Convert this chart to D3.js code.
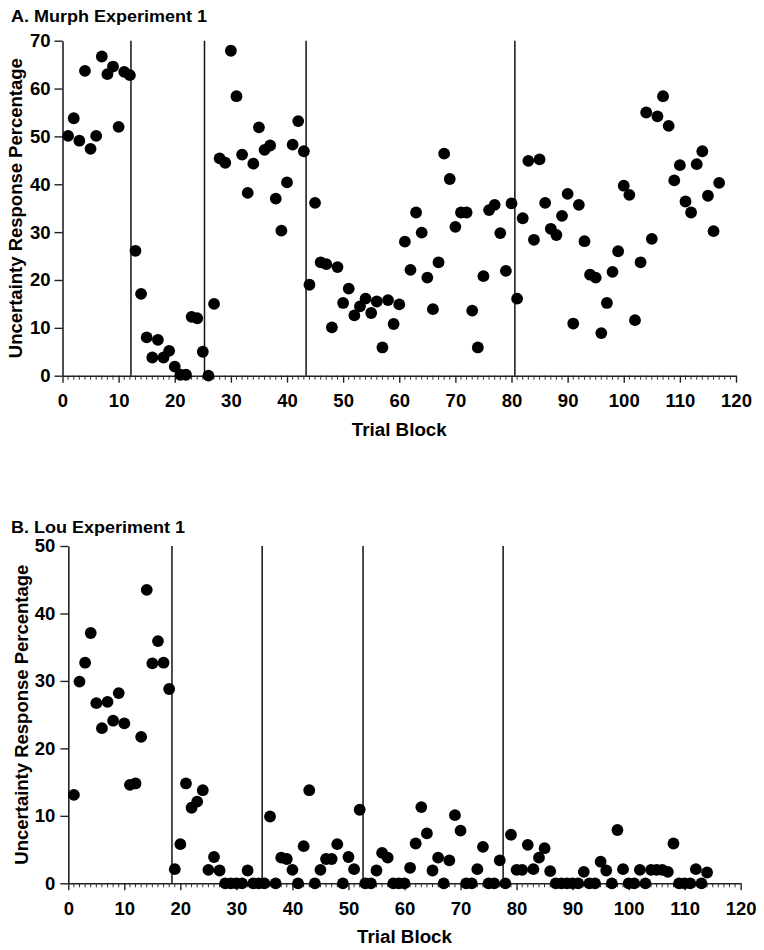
<!DOCTYPE html>
<html>
<head>
<meta charset="utf-8">
<script src="https://cdn.jsdelivr.net/npm/d3@7"></script>
<style>
  html, body { margin: 0; padding: 0; background: #fff; }
  svg text { font-family: "Liberation Sans", Arial, sans-serif; font-weight: bold; fill: #000; }
</style>
</head>
<body>
<svg id="chart" width="764" height="950"></svg>
<script>
// ---------- Data ----------
const murphBlocks = d3.range(1, 118); // trial blocks 1..117
const murphValues = [
  50.1, 53.8, 49.1, 63.7, 47.4, 50.1, 66.7, 63.0, 64.6, 52.0,
  63.5, 62.8, 26.1, 17.1, 8.0, 3.8, 7.5, 3.8, 5.2, 1.9,
  0.2, 0.2, 12.3, 12.0, 5.0, 0.0, 15.0, 45.4, 44.5, 67.9,
  58.4, 46.2, 38.2, 44.3, 51.9, 47.2, 48.1, 37.0, 30.3, 40.4,
  48.3, 53.2, 46.9, 19.0, 36.1, 23.7, 23.3, 10.1, 22.7, 15.2,
  18.2, 12.6, 14.5, 16.1, 13.1, 15.5, 5.9, 15.8, 10.8, 14.9,
  28.0, 22.1, 34.1, 29.9, 20.5, 13.9, 23.7, 46.4, 41.1, 31.1,
  34.1, 34.1, 13.6, 5.9, 20.8, 34.6, 35.7, 29.8, 21.9, 36.0,
  16.1, 32.9, 44.9, 28.4, 45.2, 36.1, 30.7, 29.4, 33.4, 38.0,
  10.9, 35.7, 28.1, 21.1, 20.5, 8.9, 15.2, 21.7, 26.0, 39.7,
  37.8, 11.6, 23.7, 55.0, 28.6, 54.2, 58.4, 52.2, 40.8, 44.0,
  36.4, 34.1, 44.2, 46.9, 37.6, 30.2, 40.3
];
const murphPhaseLines = [12.2, 25.3, 43.4, 80.6];

const louBlocks = d3.range(1, 115); // trial blocks 1..114
const louValues = [
  13.1, 29.9, 32.7, 37.1, 26.7, 23.0, 26.9, 24.1, 28.2, 23.7,
  14.6, 14.8, 21.7, 43.5, 32.6, 35.9, 32.7, 28.8, 2.1, 5.8,
  14.8, 11.2, 12.1, 13.8, 2.0, 3.9, 1.9, 0, 0, 0,
  0, 1.9, 0, 0, 0, 9.9, 0, 3.8, 3.6, 2.0,
  0, 5.5, 13.8, 0, 2.0, 3.6, 3.6, 5.8, 0, 3.9,
  2.1, 10.9, 0, 0, 1.9, 4.5, 3.8, 0, 0, 0,
  2.3, 5.9, 11.3, 7.4, 1.9, 3.8, 0, 3.4, 10.1, 7.8,
  0, 0, 2.1, 5.4, 0, 0, 3.4, 0, 7.2, 2.0,
  2.0, 5.7, 2.1, 3.8, 5.2, 1.8, 0, 0, 0, 0,
  0, 1.7, 0, 0, 3.2, 1.9, 0, 7.9, 2.1, 0,
  0, 2.0, 0, 2.0, 2.0, 2.0, 1.7, 5.9, 0, 0,
  0, 2.1, 0, 1.6
];
const louPhaseLines = [18.5, 34.6, 52.6, 77.6];

const xTicks = [0, 10, 20, 30, 40, 50, 60, 70, 80, 90, 100, 110, 120];
const murphYTicks = [0, 10, 20, 30, 40, 50, 60, 70];
const louYTicks = [0, 10, 20, 30, 40, 50];

// ---------- Drawing ----------
const svg = d3.select("#chart");

function panel(cfg) {
  const g = svg.append("g");
  const x = d3.scaleLinear().domain([0, 120]).range([cfg.x0, cfg.x1]);
  const y = d3.scaleLinear().domain([0, cfg.yMax]).range([cfg.y0, cfg.y1]);

  // title
  g.append("text").attr("x", 11).attr("y", cfg.titleY)
    .attr("font-size", 16.5)
    .attr("textLength", cfg.titleLen).attr("lengthAdjust", "spacingAndGlyphs")
    .text(cfg.title);

  // minor x ticks
  const minor = d3.range(0, 121).filter(v => v % 10 !== 0);
  g.append("g").selectAll("line").data(minor).join("line")
    .attr("x1", d => x(d)).attr("x2", d => x(d))
    .attr("y1", cfg.y0).attr("y2", cfg.y0 + 4)
    .attr("stroke", "#333").attr("stroke-width", 1);

  // x axis
  const xAxis = g.append("g").attr("transform", `translate(0,${cfg.y0})`)
    .call(d3.axisBottom(x).tickValues(xTicks).tickSize(7).tickPadding(11.5).tickSizeOuter(0));
  xAxis.select(".domain").attr("stroke", "#222").attr("stroke-width", 1.6);
  xAxis.selectAll(".tick line").attr("stroke", "#222").attr("stroke-width", 1.4);
  xAxis.selectAll(".tick text").attr("font-size", 18.5).attr("font-family", null).attr("fill", "#000");

  // y axis
  const yAxis = g.append("g").attr("transform", `translate(${cfg.x0},0)`)
    .call(d3.axisLeft(y).tickValues(cfg.yTicks).tickSize(8).tickPadding(cfg.yPad).tickSizeOuter(0));
  yAxis.select(".domain").attr("stroke", "#222").attr("stroke-width", 1.6);
  yAxis.selectAll(".tick line").attr("stroke", "#222").attr("stroke-width", 1.4);
  yAxis.selectAll(".tick text").attr("font-size", 18.5).attr("font-family", null).attr("fill", "#000");

  // phase lines
  g.append("g").selectAll("line").data(cfg.lines).join("line")
    .attr("x1", d => x(d)).attr("x2", d => x(d))
    .attr("y1", y(cfg.yMax)).attr("y2", y(0))
    .attr("stroke", "#111").attr("stroke-width", 1.5);

  // points
  g.append("g").selectAll("circle").data(cfg.blocks).join("circle")
    .attr("cx", d => x(d)).attr("cy", (d, i) => y(cfg.values[i]))
    .attr("r", 5.9).attr("fill", "#000");

  // axis titles
  g.append("text").attr("x", (cfg.x0 + cfg.x1) / 2).attr("y", cfg.xTitleY)
    .attr("text-anchor", "middle").attr("font-size", 18)
    .attr("textLength", 95).attr("lengthAdjust", "spacingAndGlyphs")
    .text("Trial Block");
  g.append("text")
    .attr("transform", `translate(${cfg.yTitleX},${(cfg.y0 + cfg.y1) / 2}) rotate(-90)`)
    .attr("text-anchor", "middle").attr("font-size", 17.5)
    .attr("textLength", 300).attr("lengthAdjust", "spacingAndGlyphs")
    .text("Uncertainty Response Percentage");
}

panel({
  title: "A. Murph Experiment 1", titleY: 22, titleLen: 196,
  x0: 62.5, x1: 736, y0: 375.7, y1: 40.7, yMax: 70, yPad: 4,
  yTicks: murphYTicks, lines: murphPhaseLines,
  blocks: murphBlocks, values: murphValues,
  xTitleY: 436, yTitleX: 21.5
});

panel({
  title: "B. Lou Experiment 1", titleY: 533, titleLen: 174,
  x0: 68.3, x1: 740.7, y0: 883.3, y1: 546, yMax: 50, yPad: 5,
  yTicks: louYTicks, lines: louPhaseLines,
  blocks: louBlocks, values: louValues,
  xTitleY: 943, yTitleX: 28
});
</script>
</body>
</html>
